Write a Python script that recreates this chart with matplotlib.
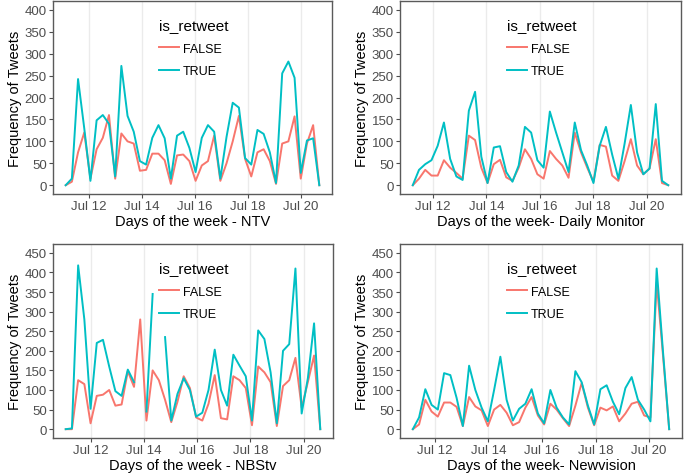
import numpy as np
import pandas as pd
import matplotlib
matplotlib.use('Agg')
import matplotlib.pyplot as plt
import matplotlib.dates as mdates

plt.rcParams['font.family'] = ['Liberation Sans', 'DejaVu Sans']

# 42 bins per account, bin width ~5.6 h
step = '336min'
n = 42
starts = {'NTV': '2018-07-11 03:00', 'DM': '2018-07-11 05:50',
          'NBS': '2018-07-11 01:30', 'NV': '2018-07-11 04:20'}

ntv_true = [0, 15, 242, 130, 10, 148, 160, 140, 20, 272, 158, 122, 55, 47, 108, 137, 107, 15, 113, 122,
            85, 30, 108, 137, 122, 15, 110, 188, 177, 62, 47, 126, 117, 75, 5, 255, 282, 245, 28, 102, 107, 0]
ntv_false = [0, 8, 75, 120, 15, 82, 108, 160, 15, 118, 100, 95, 33, 35, 72, 72, 57, 3, 68, 70,
             55, 10, 45, 55, 113, 10, 50, 100, 158, 60, 20, 75, 82, 55, 3, 95, 100, 157, 15, 95, 137, 0]

dm_true = [0, 35, 48, 57, 90, 143, 60, 20, 12, 170, 213, 65, 5, 86, 89, 30, 8, 45, 133, 120,
           57, 40, 168, 120, 75, 30, 143, 80, 45, 5, 90, 133, 70, 15, 95, 183, 75, 25, 38, 185, 10, 0]
dm_false = [0, 15, 35, 22, 22, 57, 40, 28, 15, 113, 103, 40, 5, 48, 58, 18, 10, 40, 82, 60,
            25, 15, 78, 60, 45, 17, 120, 75, 40, 8, 92, 88, 22, 10, 55, 105, 45, 25, 38, 105, 5, 0]

nbs_true = [0, 2, 418, 280, 52, 220, 228, 160, 97, 85, 152, 120, np.nan, 45, 345, np.nan, 235, 22, 90, 130,
            100, 32, 42, 100, 203, 100, 60, 190, 162, 135, 22, 252, 230, 145, 15, 200, 217, 410, 40, 130, 270, 0]
nbs_false = [0, 0, 125, 115, 15, 85, 88, 100, 60, 63, 148, 108, 280, 22, 150, 125, 75, 18, 70, 135,
             105, 30, 22, 65, 138, 28, 25, 135, 125, 105, 10, 160, 145, 120, 8, 110, 125, 182, 55, 120, 188, 0]

nv_true = [0, 30, 102, 62, 50, 143, 138, 80, 8, 162, 100, 55, 20, 100, 185, 75, 22, 52, 65, 102,
           40, 15, 100, 55, 30, 12, 148, 120, 60, 12, 102, 112, 70, 38, 105, 133, 75, 50, 20, 410, 200, 0]
nv_false = [0, 12, 75, 45, 32, 68, 68, 57, 8, 82, 58, 48, 8, 50, 62, 42, 10, 18, 55, 82,
            35, 12, 65, 50, 28, 8, 60, 118, 55, 10, 55, 48, 58, 20, 40, 65, 70, 35, 30, 375, 190, 0]

panels = [
    ('NTV', ntv_false, ntv_true, 'Days of the week - NTV', 400),
    ('DM', dm_false, dm_true, 'Days of the week- Daily Monitor', 400),
    ('NBS', nbs_false, nbs_true, 'Days of the week - NBStv', 450),
    ('NV', nv_false, nv_true, 'Days of the week- Newvision', 450),
]
# axes boxes in pixels: left, top, right, bottom
boxes = [(53, 2, 332, 195), (400, 2, 681, 195), (53, 245, 333, 439), (400, 245, 682, 439)]

W, H = 685, 477
fig = plt.figure(figsize=(W / 100, H / 100), dpi=100)

for (key, yf, yt, xlab, ymax), (l, t, r, b) in zip(panels, boxes):
    ax = fig.add_axes([l / W, (H - b) / H, (r - l) / W, (b - t) / H])
    times = pd.date_range(starts[key], periods=n, freq=step)
    ax.plot(times, yf, color='#F8766D', lw=1.4, label='FALSE')
    ax.plot(times, yt, color='#00BFC4', lw=1.4, label='TRUE')
    ax.set_ylim(-ymax * 0.05, ymax * 1.05)
    ax.set_yticks(np.arange(0, ymax + 1, 50))
    ax.set_xlim(times[0] - (times[-1] - times[0]) * 0.05, times[-1] + (times[-1] - times[0]) * 0.05)
    ax.xaxis.set_major_locator(mdates.DayLocator(bymonthday=[12, 14, 16, 18, 20]))
    ax.xaxis.set_major_formatter(mdates.DateFormatter('%b %d'))
    ax.grid(axis='x', color='#EBEBEB', lw=1.0)
    ax.set_axisbelow(True)
    for s in ax.spines.values():
        s.set_color('#5a5a5a')
        s.set_linewidth(1.0)
    ax.tick_params(colors='#4D4D4D', labelsize=9.5, length=3, width=0.8, pad=1.5)
    ax.set_xlabel(xlab, fontsize=10.5, labelpad=1)
    ax.set_ylabel('Frequency of Tweets', fontsize=10.5, labelpad=2)
    leg = ax.legend(loc='upper left', bbox_to_anchor=(0.34, 0.97), frameon=False,
                    title='is_retweet', fontsize=9, title_fontsize=11,
                    handlelength=1.6, handletextpad=0.3, labelspacing=0.85)
    leg._legend_box.align = 'left'

fig.savefig('out.png', dpi=100)
